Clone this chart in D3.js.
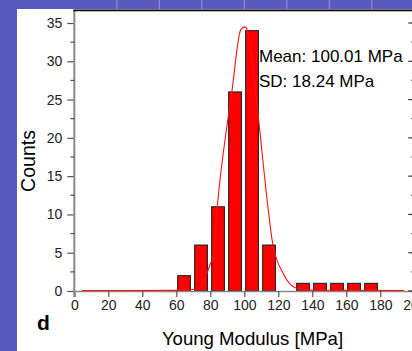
<!DOCTYPE html>
<html><head><meta charset="utf-8">
<script src="https://cdn.jsdelivr.net/npm/d3@7/dist/d3.min.js"></script>
<style>html,body{margin:0;padding:0;background:#5a5abe;overflow:hidden}svg{display:block}</style>
</head><body>
<script>
// ---- data ----
const binStarts = [60, 70, 80, 90, 100, 110, 130, 140, 150, 160, 170];
const counts    = [2, 6, 11, 26, 34, 6, 1, 1, 1, 1, 1];
const fitX = [4.4, 30, 60, 70, 74, 77, 79.8, 81.8, 84.1, 90.6, 92.6, 97.9, 100.4, 101.4, 104.5, 108.2, 114.1, 116.7, 122.9, 130.8, 138.6, 160, 193.9];
const fitY = [0.06, 0.06, 0.08, 0.2, 0.6, 1.8, 3.4, 4.7, 11.0, 22.8, 25.9, 34.1, 34.5, 34.3, 29.9, 22.8, 10.6, 6.2, 2.3, 0.35, 0.12, 0.08, 0.06];
const xTicks = [0, 20, 40, 60, 80, 100, 120, 140, 160, 180, 200];
const yTicks = [0, 5, 10, 15, 20, 25, 30, 35];
const yMinor = [2.5, 7.5, 12.5, 17.5, 22.5, 27.5, 32.5];
const topTicks = [25, 50, 75, 100, 125, 150, 175];
const statLines = ["Mean: 100.01 MPa", "SD: 18.24 MPa"];
const xTitle = "Young Modulus [MPa]";
const yTitle = "Counts";
const panelLabel = "d";

const W = 412, H = 351;
const svg = d3.select("body").append("svg").attr("width", W).attr("height", H);
const font = "'Liberation Sans', Arial, sans-serif";

// white panel
svg.append("rect").attr("x", 17).attr("y", 9).attr("width", W - 17).attr("height", H - 9).attr("fill", "#fff");

const x = d3.scaleLinear().domain([0, 200]).range([74.3, 414.3]);
const y = d3.scaleLinear().domain([0, 36.66]).range([291, 10.3]);

// top ticks in upper strip
svg.append("g").selectAll("line").data(topTicks).join("line")
  .attr("x1", d => x(d)).attr("x2", d => x(d)).attr("y1", 0).attr("y2", 9)
  .attr("stroke", "#9a9ac0").attr("stroke-width", 1);

// bars
svg.append("g").selectAll("rect").data(binStarts).join("rect")
  .attr("x", d => x(d + 0.8))
  .attr("width", d => x(d + 8.3) - x(d + 0.8))
  .attr("y", (d, i) => y(counts[i]))
  .attr("height", (d, i) => y(0) - y(counts[i]))
  .attr("fill", "#ff0000").attr("stroke", "#222").attr("stroke-width", 1.1);

// x axis
const xAxis = d3.axisBottom(x).tickValues(xTicks).tickSize(6).tickPadding(3).tickFormat(d3.format("d"));
const gx = svg.append("g").attr("transform", `translate(0,${y(0)})`).call(xAxis);
gx.select(".domain").attr("stroke", "#888").attr("stroke-width", 1.5);
gx.selectAll(".tick line").attr("stroke", "#555").attr("stroke-width", 1.2);
gx.selectAll("text").attr("font-family", font).attr("font-size", 14).attr("fill", "#222");

// left axis
const yAxis = d3.axisLeft(y).tickValues(yTicks).tickSize(7).tickPadding(5).tickFormat(d3.format("d"));
const gy = svg.append("g").attr("transform", `translate(${x(0)},0)`).call(yAxis);
gy.select(".domain").remove();
gy.selectAll(".tick line").attr("stroke", "#555").attr("stroke-width", 1.2);
gy.selectAll("text").attr("font-family", font).attr("font-size", 14).attr("fill", "#222");
svg.append("line").attr("x1", x(0)).attr("x2", x(0)).attr("y1", y.range()[1]).attr("y2", y(0) + 6)
  .attr("stroke", "#888").attr("stroke-width", 2);
svg.append("g").selectAll("line").data(yMinor).join("line")
  .attr("x1", x(0) - 4).attr("x2", x(0)).attr("y1", d => y(d)).attr("y2", d => y(d))
  .attr("stroke", "#555").attr("stroke-width", 1.2);

// right ticks
svg.append("g").selectAll("line").data(yTicks.concat(yMinor)).join("line")
  .attr("x1", d => x(200) - (yTicks.includes(d) ? 6 : 3)).attr("x2", x(200))
  .attr("y1", d => y(d)).attr("y2", d => y(d))
  .attr("stroke", "#333").attr("stroke-width", 1.2);

// top frame line
svg.append("line").attr("x1", x(0) - 1).attr("x2", W).attr("y1", y.range()[1]).attr("y2", y.range()[1])
  .attr("stroke", "#000").attr("stroke-width", 1.8);

// fitted curve
const line = d3.line().x((d, i) => x(fitX[i])).y((d, i) => y(fitY[i])).curve(d3.curveMonotoneX);
svg.append("path").datum(fitX).attr("d", line)
  .attr("fill", "none").attr("stroke", "#ff1010").attr("stroke-width", 1.1);

// stats text
svg.append("g").selectAll("text").data(statLines).join("text")
  .attr("x", 259).attr("y", (d, i) => 61.5 + i * 25.5)
  .attr("font-family", font).attr("font-size", 17).attr("fill", "#000").text(d => d);

// titles
svg.append("text").attr("x", 252.5).attr("y", 345).attr("text-anchor", "middle")
  .attr("font-family", font).attr("font-size", 18.6).attr("fill", "#000").text(xTitle);
svg.append("text").attr("transform", "translate(35,161) rotate(-90)").attr("text-anchor", "middle")
  .attr("font-family", font).attr("font-size", 19.5).attr("fill", "#000").text(yTitle);
svg.append("text").attr("x", 37).attr("y", 330)
  .attr("font-family", font).attr("font-size", 21).attr("font-weight", "bold").attr("fill", "#000").text(panelLabel);
</script>
</body></html>
